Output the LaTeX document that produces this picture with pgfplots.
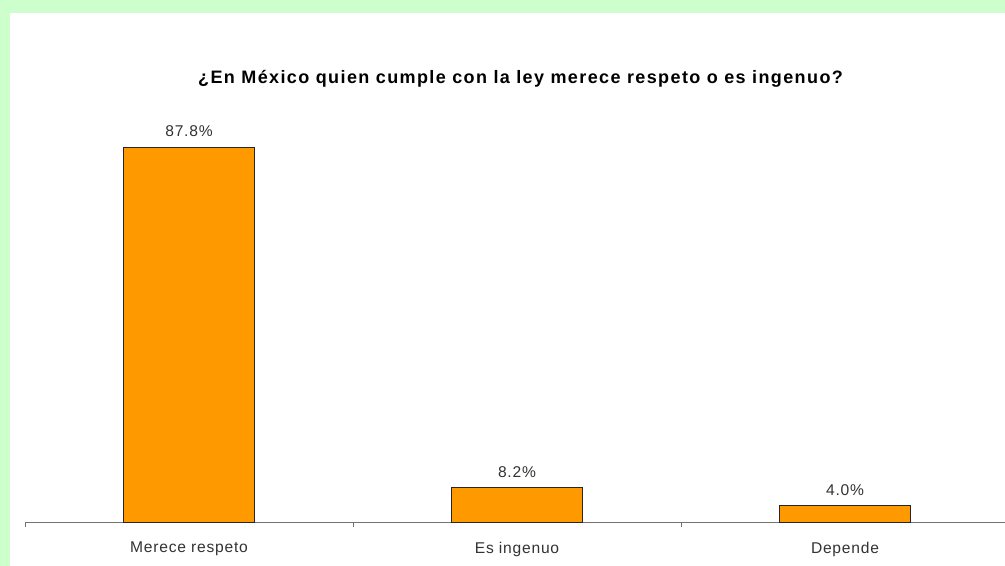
\documentclass[border=0pt]{standalone}
\usepackage{pgfplots}
\pgfplotsset{compat=1.18}
\usepackage{fontspec}
\setmainfont{Liberation Sans}
\newfontfamily\titlefont[LetterSpace=7.8]{Liberation Sans}
\newfontfamily\labelfont[LetterSpace=5]{Liberation Sans}
\definecolor{bggreen}{HTML}{CCFFCC}
\definecolor{barorange}{HTML}{FF9900}
\definecolor{txtgray}{HTML}{333333}
\begin{document}
\begin{tikzpicture}
\path[use as bounding box] (0,0) rectangle (753.75pt,424.5pt);
\clip (0,0) rectangle (753.75pt,424.5pt);
\fill[bggreen] (0,0) rectangle (753.75pt,424.5pt);
\fill[white] (7.5pt,0) rectangle (753.75pt,414.75pt);
\node[font=\titlefont\fontsize{13.5}{15}\selectfont\bfseries, text=black] at (390.4pt,365.5pt) {¿En México quien cumple con la ley merece respeto o es ingenuo?};
\begin{axis}[
  at={(18.75pt,32.25pt)}, anchor=south west,
  scale only axis, width=738pt, height=321pt,
  xmin=-0.5, xmax=2.5, ymin=0, ymax=100,
  axis x line*=bottom, hide y axis,
  axis line style={black!55, line width=0.75pt},
  xtick={0,1,2},
  xticklabels={Merece respeto, Es ingenuo, Depende},
  major tick length=0pt,
  minor xtick={-0.5,0.5,1.5,2.5},
  minor tick length=3pt,
  tick align=outside,
  tick style={black!55, line width=0.75pt},
  xticklabel style={font=\labelfont\fontsize{11.7}{14}\selectfont, text=txtgray, anchor=north, inner sep=0pt, yshift=-14pt},
  /pgf/number format/assume math mode=true,
  ybar, bar width=98.25pt,
  nodes near coords={\pgfmathprintnumber[fixed, fixed zerofill, precision=1]{\pgfplotspointmeta}\%},
  every node near coord/.append style={font=\labelfont\fontsize{11.7}{14}\selectfont, text=txtgray, anchor=center, yshift=12pt},
  clip=false,
]
\addplot[draw=black!85, fill=barorange, line width=0.75pt] coordinates {(0,87.8) (1,8.2) (2,4.0)};
\end{axis}
\end{tikzpicture}
\end{document}
